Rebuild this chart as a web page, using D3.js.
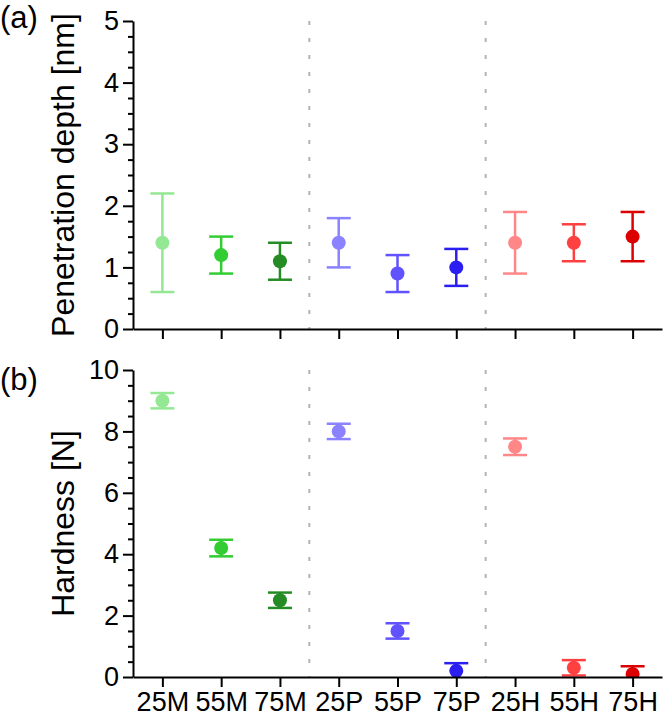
<!DOCTYPE html>
<html>
<head>
<meta charset="utf-8">
<script src="https://cdn.jsdelivr.net/npm/d3@7"></script>
<style>
  body { margin: 0; background: #fff; }
  text { font-family: "Liberation Sans", Arial, sans-serif; fill: #000; }
</style>
</head>
<body>
<div id="chart"></div>
<script>
// categories and colours
const categories = ["25M", "55M", "75M", "25P", "55P", "75P", "25H", "55H", "75H"];
const colors = ["#94e894", "#33cc33", "#258c25", "#8a82ff", "#6152ff", "#2a1ff0", "#ff8787", "#ff4040", "#dd0000"];

// (a) penetration depth [nm]: mean and error bar ends
const depthMean = [1.4, 1.2, 1.1, 1.4, 0.9, 1.0, 1.4, 1.4, 1.5];
const depthLow  = [0.6, 0.9, 0.8, 1.0, 0.6, 0.7, 0.9, 1.1, 1.1];
const depthHigh = [2.2, 1.5, 1.4, 1.8, 1.2, 1.3, 1.9, 1.7, 1.9];

// (b) hardness [N]: mean and error
const hardMean = [9.0, 4.2, 2.5, 8.0, 1.5, 0.2, 7.5, 0.3, 0.1];
const hardErr  = [0.25, 0.27, 0.25, 0.25, 0.25, 0.25, 0.27, 0.25, 0.25];

// group separators (between category positions)
const groupBreaks = [2.5, 5.5];

const depthTicks = [0, 1, 2, 3, 4, 5];
const hardTicks = [0, 2, 4, 6, 8, 10];

function init() {
  const svg = d3.select("#chart")
    .append("svg")
    .attr("width", 666)
    .attr("height", 717);

  const x = d3.scaleLinear()
    .domain([-0.5, categories.length - 0.5])
    .range([133, 662]);

  const panels = [
    {
      id: "a", label: "(a)", labelY: 28,
      title: "Penetration depth [nm]",
      y: d3.scaleLinear().domain([0, 5]).range([329, 21]),
      ticks: depthTicks, minorStep: 0.25,
      mean: depthMean, low: depthLow, high: depthHigh,
      xLabels: false
    },
    {
      id: "b", label: "(b)", labelY: 390,
      title: "Hardness [N]",
      y: d3.scaleLinear().domain([0, 10]).range([677, 370]),
      ticks: hardTicks, minorStep: 0.5,
      mean: hardMean,
      low: hardMean.map((d, i) => d - hardErr[i]),
      high: hardMean.map((d, i) => d + hardErr[i]),
      xLabels: true
    }
  ];

  panels.forEach(p => drawPanel(p));

  function drawPanel(p) {
    const y = p.y;
    const [y0, y1] = y.range();
    const g = svg.append("g");

    // clip to the plot area so marks near zero are cut by the axis
    g.append("clipPath")
      .attr("id", "clip-" + p.id)
      .append("rect")
      .attr("x", x.range()[0])
      .attr("y", y1 - 5)
      .attr("width", x.range()[1] - x.range()[0])
      .attr("height", y0 - y1 + 5);

    // dashed group separators
    g.selectAll(".sep")
      .data(groupBreaks)
      .enter()
      .append("line")
      .attr("x1", d => x(d))
      .attr("x2", d => x(d))
      .attr("y1", y1)
      .attr("y2", y0)
      .style("stroke", "#b4b4b4")
      .style("stroke-width", 2)
      .style("stroke-dasharray", "4,13");

    const marks = g.append("g").attr("clip-path", `url(#clip-${p.id})`);
    const capHalf = 12;

    // error bars
    const bars = marks.selectAll(".err")
      .data(categories)
      .enter()
      .append("g")
      .style("stroke", (d, i) => colors[i])
      .style("stroke-width", 2.5);

    bars.append("line")
      .attr("x1", (d, i) => x(i))
      .attr("x2", (d, i) => x(i))
      .attr("y1", (d, i) => y(p.low[i]))
      .attr("y2", (d, i) => y(p.high[i]));

    bars.append("line")
      .attr("x1", (d, i) => x(i) - capHalf)
      .attr("x2", (d, i) => x(i) + capHalf)
      .attr("y1", (d, i) => y(p.high[i]))
      .attr("y2", (d, i) => y(p.high[i]));

    bars.append("line")
      .attr("x1", (d, i) => x(i) - capHalf)
      .attr("x2", (d, i) => x(i) + capHalf)
      .attr("y1", (d, i) => y(p.low[i]))
      .attr("y2", (d, i) => y(p.low[i]));

    // mean points
    marks.selectAll(".pt")
      .data(categories)
      .enter()
      .append("circle")
      .attr("cx", (d, i) => x(i))
      .attr("cy", (d, i) => y(p.mean[i]))
      .attr("r", 7)
      .style("fill", (d, i) => colors[i]);

    // y axis: minor ticks then major ticks with labels
    const minor = d3.range(0, y.domain()[1] + 1e-9, p.minorStep)
      .filter(v => !p.ticks.some(t => Math.abs(t - v) < 1e-9));

    g.append("g")
      .attr("transform", `translate(${x.range()[0]},0)`)
      .call(d3.axisLeft(y).tickValues(minor).tickSize(5).tickFormat(""))
      .call(a => a.select(".domain").remove())
      .selectAll("line").style("stroke-width", 2);

    const yAxis = g.append("g")
      .attr("transform", `translate(${x.range()[0]},0)`)
      .call(d3.axisLeft(y)
        .tickValues(p.ticks)
        .tickFormat(d3.format("d"))
        .tickSize(10)
        .tickSizeOuter(0)
        .tickPadding(4));
    yAxis.selectAll("line").style("stroke-width", 2);
    yAxis.select(".domain").style("stroke-width", 2);
    yAxis.selectAll("text")
      .style("font-size", "27px")
      .style("font-family", "'Liberation Sans', Arial, sans-serif");

    // x axis
    const xAxis = g.append("g")
      .attr("transform", `translate(0,${y0})`)
      .call(d3.axisBottom(x)
        .tickValues(d3.range(categories.length))
        .tickSize(10)
        .tickSizeOuter(0)
        .tickPadding(5)
        .tickFormat(i => p.xLabels ? categories[i] : ""));
    xAxis.selectAll("line").style("stroke-width", 2);
    xAxis.select(".domain").style("stroke-width", 2);
    xAxis.selectAll("text")
      .style("font-size", "27px")
      .style("font-family", "'Liberation Sans', Arial, sans-serif");

    // axis title
    g.append("text")
      .attr("transform", `translate(74,${(y0 + y1) / 2}) rotate(-90)`)
      .attr("text-anchor", "middle")
      .style("font-size", "32px")
      .text(p.title);

    // panel label
    g.append("text")
      .attr("x", 0)
      .attr("y", p.labelY)
      .style("font-size", "31px")
      .text(p.label);
  }
}

window.onload = init;
</script>
</body>
</html>
